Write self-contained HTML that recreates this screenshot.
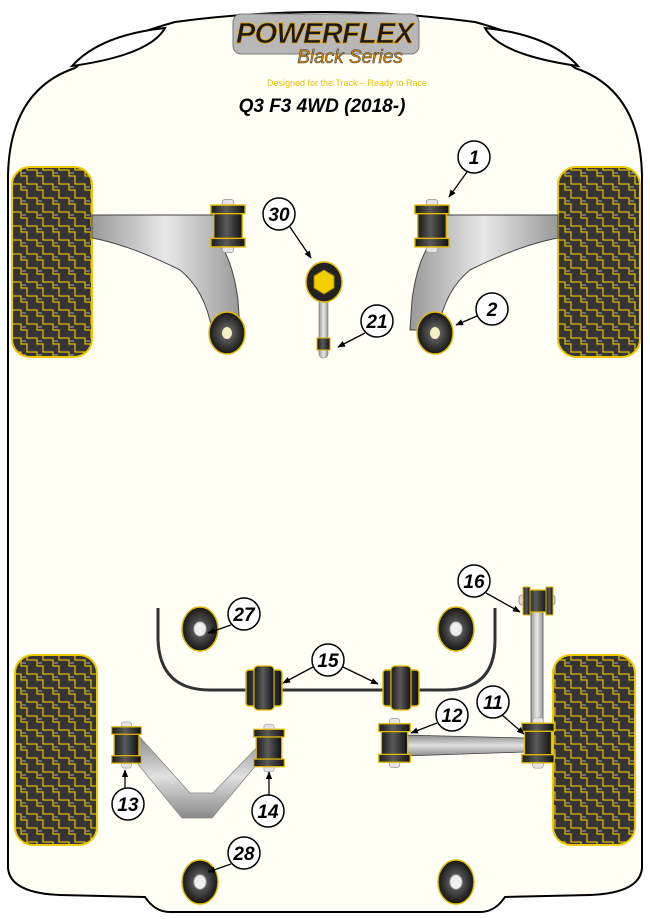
<!DOCTYPE html>
<html><head><meta charset="utf-8"><style>
html,body{margin:0;padding:0;background:#fff}
svg{display:block}
.n{font-family:"Liberation Sans",sans-serif;font-weight:bold;font-style:italic;font-size:19px;text-anchor:middle}
</style></head><body>
<svg width="650" height="919" viewBox="0 0 650 919" xmlns="http://www.w3.org/2000/svg">
<defs>
<linearGradient id="dk" x1="0" x2="1" y1="0" y2="0"><stop offset="0" stop-color="#1a1a1a"/><stop offset="0.45" stop-color="#5a5a5a"/><stop offset="1" stop-color="#111"/></linearGradient>
<linearGradient id="gr" x1="0" x2="0" y1="0" y2="1"><stop offset="0" stop-color="#8a8a8a"/><stop offset="0.5" stop-color="#e0e0e0"/><stop offset="1" stop-color="#8a8a8a"/></linearGradient>
<linearGradient id="grh" x1="0" x2="1" y1="0" y2="0"><stop offset="0" stop-color="#999"/><stop offset="0.5" stop-color="#e8e8e8"/><stop offset="1" stop-color="#999"/></linearGradient>
<radialGradient id="mt" cx="0.5" cy="0.5" r="0.5"><stop offset="0" stop-color="#777"/><stop offset="1" stop-color="#151515"/></radialGradient>
<pattern id="ty" width="16" height="14" patternUnits="userSpaceOnUse">
<rect width="16" height="14" fill="#353535"/>
<path d="M0 2 H5 V8 H11 V14 M11 0 V2 H16" fill="none" stroke="#e0b800" stroke-width="1.3"/>
<path d="M6 5 H10" stroke="#aaa" stroke-width="1"/>
</pattern>
<symbol id="vb" viewBox="-20 -28 40 56" overflow="visible">
<rect x="-6" y="-28" width="12" height="56" rx="3" fill="#e4e4e4" stroke="#999" stroke-width="0.8"/>
<rect x="-15" y="-15" width="30" height="30" fill="url(#dk)" stroke="#e0b800" stroke-width="1.5"/>
<rect x="-18" y="-22" width="36" height="9" fill="url(#dk)" stroke="#e0b800" stroke-width="1.5"/>
<rect x="-18" y="13" width="36" height="9" fill="url(#dk)" stroke="#e0b800" stroke-width="1.5"/>
</symbol>
<symbol id="mnt" viewBox="-20 -24 40 48" overflow="visible">
<ellipse cx="0" cy="0" rx="18" ry="22" fill="url(#mt)" stroke="#e0b800" stroke-width="1.5"/>
<ellipse cx="0" cy="0" rx="6" ry="7" fill="#eee" stroke="#bbb"/>
</symbol>
<marker id="ar" viewBox="0 0 10 10" refX="9" refY="5" markerWidth="6" markerHeight="6" orient="auto"><path d="M0 1 L10 5 L0 9z" fill="#000"/></marker>
</defs>
<rect width="650" height="919" fill="#fff"/>
<path d="M175 22 Q325 2 475 22 Q540 40 575 68 Q640 90 642 175 L642 868 Q640 893 590 895 L505 897 Q495 912 480 912 L170 912 Q155 912 145 897 L60 895 Q10 893 8 868 L8 175 Q10 90 75 68 Q110 40 175 22 Z" fill="#fffff6" stroke="#000" stroke-width="2"/>
<path d="M72 66 Q100 35 165 28 Q150 55 72 66Z" fill="#fff" stroke="#000" stroke-width="2"/>
<path d="M578 66 Q550 35 485 28 Q500 55 578 66Z" fill="#fff" stroke="#000" stroke-width="2"/>
<rect x="233" y="14" width="186" height="40" rx="8" fill="#b8b8b8" stroke="#777"/>
<text x="325" y="43" font-family="Liberation Sans,sans-serif" font-weight="bold" font-style="italic" font-size="29" text-anchor="middle" fill="#1a1a1a" stroke="#e8a000" stroke-width="0.7" textLength="178">POWERFLEX</text>
<text x="350" y="63" font-family="Liberation Sans,sans-serif" font-style="italic" font-size="19" text-anchor="middle" fill="#e08a00" stroke="#333" stroke-width="0.5">Black Series</text>
<text x="347" y="86" font-family="Liberation Sans,sans-serif" font-size="9" text-anchor="middle" fill="#e6c000">Designed for the Track – Ready to Race</text>
<text x="322" y="112" font-family="Liberation Sans,sans-serif" font-weight="bold" font-style="italic" font-size="19" text-anchor="middle" fill="#000">Q3 F3 4WD (2018-)</text>
<rect x="12" y="167" width="80" height="190" rx="18" fill="url(#ty)" stroke="#f0c800" stroke-width="2"/>
<rect x="558" y="167" width="82" height="190" rx="18" fill="url(#ty)" stroke="#f0c800" stroke-width="2"/>
<rect x="15" y="655" width="82" height="190" rx="18" fill="url(#ty)" stroke="#f0c800" stroke-width="2"/>
<rect x="553" y="655" width="82" height="190" rx="18" fill="url(#ty)" stroke="#f0c800" stroke-width="2"/>
<path d="M92 215 L215 215 L215 238 Q232 255 238 300 L240 330 L212 330 Q205 290 180 270 Q130 245 92 238Z" fill="url(#grh)" stroke="#444" stroke-width="1"/>
<path d="M558 215 L435 215 L435 238 Q418 255 412 300 L410 330 L438 330 Q445 290 470 270 Q520 245 558 238Z" fill="url(#grh)" stroke="#444" stroke-width="1"/>
<use href="#vb" x="209" y="198" width="38" height="56"/>
<use href="#vb" x="413" y="198" width="38" height="56"/>
<ellipse cx="227" cy="333" rx="18" ry="21" fill="url(#mt)" stroke="#e0b800" stroke-width="1.5"/>
<ellipse cx="227" cy="333" rx="5" ry="6" fill="#f5f0c0"/>
<ellipse cx="435" cy="333" rx="18" ry="21" fill="url(#mt)" stroke="#e0b800" stroke-width="1.5"/>
<ellipse cx="435" cy="333" rx="5" ry="6" fill="#f5f0c0"/>
<rect x="319" y="290" width="9" height="68" rx="4" fill="url(#grh)" stroke="#777" stroke-width="0.6"/>
<rect x="317" y="338" width="13" height="12" fill="url(#dk)" stroke="#e0b800"/>
<ellipse cx="324" cy="282" rx="18" ry="20" fill="#222" stroke="#e0b800" stroke-width="1.5"/>
<polygon points="324,270 334,276 334,288 324,294 314,288 314,276" fill="#f2d000" stroke="#a08000"/>
<path d="M158 608 L158 640 Q160 690 210 690 L445 690 Q495 690 495 640 L495 608" fill="none" stroke="#333" stroke-width="3"/>
<g><rect x="246" y="670" width="36" height="36" rx="3" fill="url(#dk)" stroke="#e0b800" stroke-width="1.5"/><rect x="254" y="666" width="20" height="44" rx="4" fill="url(#dk)" stroke="#e0b800" stroke-width="1.2"/></g>
<g><rect x="383" y="670" width="36" height="36" rx="3" fill="url(#dk)" stroke="#e0b800" stroke-width="1.5"/><rect x="391" y="666" width="20" height="44" rx="4" fill="url(#dk)" stroke="#e0b800" stroke-width="1.2"/></g>
<use href="#mnt" x="180" y="605" width="40" height="48"/>
<use href="#mnt" x="436" y="605" width="40" height="48"/>
<use href="#mnt" x="180" y="858" width="40" height="48"/>
<use href="#mnt" x="436" y="858" width="40" height="48"/>
<path d="M138 735 L190 793 L213 793 L262 742 L262 758 L212 818 L182 818 L132 757Z" fill="url(#gr)" stroke="#888" stroke-width="0.8"/>
<use href="#vb" x="110" y="718" width="33" height="54"/>
<use href="#vb" x="252" y="721" width="34" height="54"/>
<rect x="531" y="600" width="12" height="138" fill="url(#grh)" stroke="#555" stroke-width="0.8"/>
<path d="M405 735 L525 738 L525 752 L405 756Z" fill="url(#gr)" stroke="#444" stroke-width="0.8"/>
<g><rect x="519" y="595" width="36" height="10" rx="3" fill="#ddd" stroke="#999"/><rect x="527" y="590" width="20" height="22" fill="url(#dk)" stroke="#e0b800" stroke-width="1.3"/><rect x="523" y="587" width="7" height="28" fill="url(#dk)" stroke="#e0b800"/><rect x="546" y="587" width="7" height="28" fill="url(#dk)" stroke="#e0b800"/></g>
<use href="#vb" x="520" y="716" width="36" height="54"/>
<use href="#vb" x="377" y="716" width="35" height="54"/>
<g fill="#fff" stroke="#000" stroke-width="1.5">
<circle cx="474" cy="157" r="16"/><circle cx="492" cy="309" r="16"/><circle cx="279" cy="214" r="16"/><circle cx="377" cy="321" r="16"/>
<circle cx="474" cy="581" r="16"/><circle cx="244" cy="614" r="16"/><circle cx="328" cy="660" r="16"/><circle cx="493" cy="702" r="16"/><circle cx="452" cy="715" r="16"/><circle cx="128" cy="804" r="16"/><circle cx="268" cy="811" r="16"/><circle cx="244" cy="853" r="16"/>
</g>
<g class="n">
<text x="474" y="164">1</text><text x="492" y="316">2</text><text x="279" y="221">30</text><text x="377" y="328">21</text>
<text x="474" y="588">16</text><text x="244" y="621">27</text><text x="328" y="667">15</text><text x="493" y="709">11</text><text x="452" y="722">12</text><text x="128" y="811">13</text><text x="268" y="818">14</text><text x="244" y="860">28</text>
</g>
<g stroke="#000" stroke-width="1.3" marker-end="url(#ar)">
<line x1="467" y1="172" x2="449" y2="197"/>
<line x1="477" y1="316" x2="456" y2="325"/>
<line x1="290" y1="227" x2="311" y2="258"/>
<line x1="365" y1="333" x2="338" y2="347"/>
<line x1="486" y1="593" x2="520" y2="612"/>
<line x1="231" y1="625" x2="208" y2="633"/>
<line x1="313" y1="667" x2="283" y2="683"/>
<line x1="343" y1="667" x2="378" y2="684"/>
<line x1="502" y1="715" x2="524" y2="734"/>
<line x1="437" y1="723" x2="411" y2="733"/>
<line x1="125" y1="788" x2="125" y2="770"/>
<line x1="269" y1="795" x2="269" y2="772"/>
<line x1="231" y1="864" x2="208" y2="872"/>
</g>
</svg>
</body></html>
